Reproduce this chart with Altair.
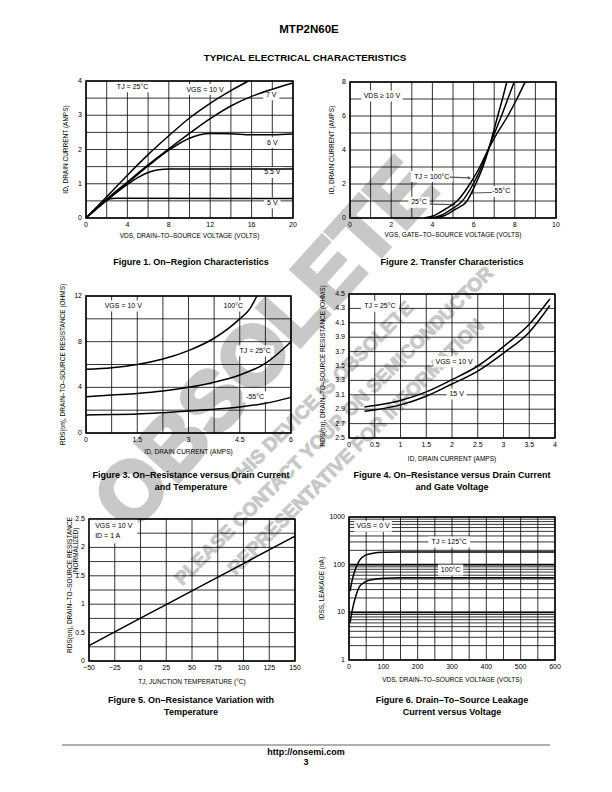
import math
import altair as alt
import pandas as pd

PAGE_W, PAGE_H = 612, 792
FONT = "Liberation Sans Narrow, Arial Narrow, Liberation Sans, Arial, sans-serif"
BOLD = "Liberation Sans, Arial, Helvetica, sans-serif"
INK = "#000000"
WM = "#c8c8c8"

# ---------------- Figure 1: On-Region Characteristics
F1_VDS_10V = [0, 2, 4, 6, 8, 10, 12, 14, 15.7]
F1_ID_10V = [0, 0.62, 1.25, 1.85, 2.4, 2.92, 3.35, 3.72, 4.0]
F1_VDS_7V = [0, 2, 4, 6, 8, 10, 12, 14, 16, 18, 20]
F1_ID_7V = [0, 0.55, 1.05, 1.55, 2.02, 2.47, 2.9, 3.27, 3.55, 3.76, 3.94]
F1_VDS_6V = [0, 2, 4, 6, 8, 10, 11, 12, 14, 16, 18, 20]
F1_ID_6V = [0, 0.53, 1.02, 1.52, 1.98, 2.33, 2.43, 2.47, 2.46, 2.43, 2.43, 2.45]
F1_VDS_55V = [0, 2, 4, 5, 6, 7, 8, 20]
F1_ID_55V = [0, 0.51, 0.98, 1.18, 1.33, 1.41, 1.43, 1.43]
F1_VDS_5V = [0, 1, 2, 2.5, 3, 20]
F1_ID_5V = [0, 0.28, 0.52, 0.57, 0.58, 0.57]

# ---------------- Figure 2: Transfer Characteristics
F2_ID = [0, 0.15, 0.5, 1.0, 2.0, 3.0, 4.0, 5.0, 6.0, 7.0, 8.0]
F2_VGS_100C = [3.6, 4.1, 4.6, 5.2, 5.82, 6.3, 6.7, 7.15, 7.66, 8.1, 8.5]
F2_VGS_25C = [3.85, 4.4, 4.9, 5.45, 5.98, 6.38, 6.7, 7.02, 7.35, 7.66, 7.97]
F2_VGS_M55C = [4.1, 4.6, 5.1, 5.68, 6.1, 6.45, 6.72, 6.95, 7.17, 7.4, 7.61]

# ---------------- Figure 3: On-Resistance vs Drain Current and Temperature
F3_ID = [0, 0.75, 1.5, 2.25, 3, 3.75, 4.5, 5.25, 6]
F3_R_25C = [3.18, 3.33, 3.47, 3.68, 4.0, 4.44, 5.08, 6.1, 8.0]
F3_R_M55C = [1.58, 1.61, 1.66, 1.78, 1.93, 2.08, 2.28, 2.6, 3.12]
F3_ID_100C = [0, 0.75, 1.5, 2.25, 3, 3.75, 4.5, 4.8, 5.0]
F3_R_100C = [5.58, 5.72, 6.0, 6.48, 7.22, 8.3, 10.0, 10.9, 12.0]

# ---------------- Figure 4: On-Resistance vs Drain Current and Gate Voltage
F4_ID = [0.3, 0.5, 1.0, 1.5, 2.0, 2.5, 3.0, 3.5, 3.9]
F4_R_10V = [2.93, 2.95, 3.02, 3.14, 3.31, 3.5, 3.77, 4.08, 4.43]
F4_R_15V = [2.87, 2.89, 2.96, 3.08, 3.25, 3.43, 3.68, 3.97, 4.34]

# ---------------- Figure 5: On-Resistance Variation with Temperature
F5_TJ = [-50, 0, 50, 100, 150]
F5_R = [0.27, 0.755, 1.235, 1.715, 2.2]

# ---------------- Figure 6: Drain-To-Source Leakage
F6_VDS = [3, 10, 20, 31, 48, 70, 100, 150, 600]
F6_I_125C = [28, 50, 85, 124, 158, 174, 182, 184, 184]
F6_I_100C = [6, 11.5, 22, 35, 44, 49, 52, 53, 53]


def frange(a, b, s):
    n = int(round((b - a) / s))
    return [round(a + i * s, 6) for i in range(n + 1)]


def series(name, xs, ys):
    return pd.DataFrame({"x": xs, "y": ys, "s": name})


def text_w(s, size=7.0):
    w = 0.0
    for ch in s:
        if ch == " ":
            w += 0.25
        elif ch in "Il.,:;|i":
            w += 0.28
        elif ch.isupper():
            w += 0.66
        elif ch == "°":
            w += 0.4
        else:
            w += 0.56
    return w * size


def panel(p):
    xdom, ydom, xr, yr = p["xdom"], p["ydom"], p["xr"], p["yr"]
    ylog = p.get("ylog", False)
    xs = alt.Scale(domain=xdom, range=xr, nice=False, zero=False)
    if ylog:
        ys = alt.Scale(type="log", domain=ydom, range=yr, nice=False)
    else:
        ys = alt.Scale(domain=ydom, range=yr, nice=False, zero=False)

    def x2px(v):
        return xr[0] + (v - xdom[0]) / (xdom[1] - xdom[0]) * (xr[1] - xr[0])

    def px2x(q):
        return xdom[0] + (q - xr[0]) / (xr[1] - xr[0]) * (xdom[1] - xdom[0])

    if ylog:
        l0, l1 = math.log10(ydom[0]), math.log10(ydom[1])

        def y2px(v):
            return yr[0] + (math.log10(v) - l0) / (l1 - l0) * (yr[1] - yr[0])

        def px2y(q):
            return 10 ** (l0 + (q - yr[0]) / (yr[1] - yr[0]) * (l1 - l0))
        ymid = math.sqrt(ydom[0] * ydom[1])
    else:
        def y2px(v):
            return yr[0] + (v - ydom[0]) / (ydom[1] - ydom[0]) * (yr[1] - yr[0])

        def px2y(q):
            return ydom[0] + (q - yr[0]) / (yr[1] - yr[0]) * (ydom[1] - ydom[0])
        ymid = (ydom[0] + ydom[1]) / 2

    X = lambda f, **k: alt.X(f, scale=xs, axis=None, **k)
    Y = lambda f, **k: alt.Y(f, scale=ys, axis=None, **k)
    layers = []

    # grid lines
    vg = pd.DataFrame({"v": p["xgrid"], "a": ydom[0], "b": ydom[1]})
    layers.append(alt.Chart(vg).mark_rule(color=INK, strokeWidth=0.8).encode(
        x=X("v:Q"), y=Y("a:Q"), y2="b:Q"))
    hg = pd.DataFrame({"v": p["ygrid"], "a": xdom[0], "b": xdom[1]})
    layers.append(alt.Chart(hg).mark_rule(color=INK, strokeWidth=0.8).encode(
        y=Y("v:Q"), x=X("a:Q"), x2="b:Q"))
    if p.get("ythick"):
        tg = pd.DataFrame({"v": p["ythick"], "a": xdom[0], "b": xdom[1]})
        layers.append(alt.Chart(tg).mark_rule(color=INK, strokeWidth=1.8).encode(
            y=Y("v:Q"), x=X("a:Q"), x2="b:Q"))

    # label backgrounds
    rows, boxes = [], []
    for lab in p.get("labels", []):
        t, lx, ly = lab[0], lab[1], lab[2]
        al = lab[3] if len(lab) > 3 else "center"
        pad = 3
        w = text_w(t)
        cx, cy = x2px(lx), y2px(ly)
        if al == "center":
            a, b = cx - w / 2 - pad, cx + w / 2 + pad
        else:
            a, b = cx - pad, cx + w + pad
        boxes.append({"x1": px2x(a), "x2": px2x(b), "y1": px2y(cy + 5.5), "y2": px2y(cy - 5.5)})
        rows.append({"t": t, "x": lx, "y": ly, "al": al})
    for bx in p.get("boxes", []):
        boxes.append({"x1": bx[0], "x2": bx[1], "y1": bx[2], "y2": bx[3]})
    if boxes:
        layers.append(alt.Chart(pd.DataFrame(boxes)).mark_rect(fill="white", strokeWidth=0).encode(
            x=X("x1:Q"), x2="x2:Q", y=Y("y1:Q"), y2="y2:Q"))

    # frame
    fdf = pd.DataFrame({"x1": [xdom[0]], "x2": [xdom[1]], "y1": [ydom[0]], "y2": [ydom[1]]})
    layers.append(alt.Chart(fdf).mark_rect(fill="white", fillOpacity=0, stroke=INK, strokeWidth=1.5).encode(
        x=X("x1:Q"), x2="x2:Q", y=Y("y1:Q"), y2="y2:Q"))

    # tick labels (placed through the panel scales)
    tstyle = dict(font=FONT, fontSize=7, color=INK)
    ttl = dict(font=FONT, fontSize=6.5, color=INK)
    xl = pd.DataFrame({"v": p["xticks"], "b": ydom[0]})
    layers.append(alt.Chart(xl).mark_text(align="center", baseline="top", dy=3, **tstyle).encode(
        x=X("v:Q"), y=Y("b:Q"), text=alt.Text("v:Q", format=p.get("xfmt", "~g"))))
    yl = pd.DataFrame({"v": p["yticks"], "a": xdom[0]})
    layers.append(alt.Chart(yl).mark_text(align="right", baseline="middle", dx=-4, **tstyle).encode(
        x=X("a:Q"), y=Y("v:Q"), text=alt.Text("v:Q", format=p.get("yfmt", "~g"))))

    # axis titles
    xt = pd.DataFrame({"x": [(xdom[0] + xdom[1]) / 2], "y": [ydom[0]], "t": [p["xtitle"]]})
    layers.append(alt.Chart(xt).mark_text(align="center", baseline="middle", dy=p["xty"], **ttl).encode(
        x=X("x:Q"), y=Y("y:Q"), text="t:N"))
    ytl = p["ytitle"] if isinstance(p["ytitle"], list) else [p["ytitle"]]
    ytx = p["ytx"] if isinstance(p["ytx"], list) else [p["ytx"]]
    yta = p.get("yta", [0] * len(ytl))
    for line, off, along in zip(ytl, ytx, yta):
        yt = pd.DataFrame({"x": [xdom[0]], "y": [ymid], "t": [line]})
        kw = dict(align="center", baseline="middle", angle=270, dy=off, **ttl)
        if along:
            kw["dx"] = along
        layers.append(alt.Chart(yt).mark_text(**kw).encode(x=X("x:Q"), y=Y("y:Q"), text="t:N"))

    # arrows
    if p.get("arrows"):
        adf = pd.DataFrame(p["arrows"], columns=["x1", "y1", "x2", "y2", "shape"])
        layers.append(alt.Chart(adf).mark_rule(color="#555555", strokeWidth=1.2).encode(
            x=X("x1:Q"), y=Y("y1:Q"), x2="x2:Q", y2="y2:Q"))
        for shp in adf["shape"].unique():
            layers.append(alt.Chart(adf[adf["shape"] == shp]).mark_point(
                shape=shp, filled=True, color="#555555", size=14, opacity=1).encode(x=X("x2:Q"), y=Y("y2:Q")))

    # curves
    ldf = pd.concat(p["series"], ignore_index=True)
    layers.append(alt.Chart(ldf).mark_line(color=INK, strokeWidth=1.5, interpolate="monotone").encode(
        x=X("x:Q"), y=Y("y:Q"), detail="s:N"))

    # in-plot labels
    if rows:
        tdf = pd.DataFrame(rows)
        for al in tdf["al"].unique():
            layers.append(alt.Chart(tdf[tdf["al"] == al]).mark_text(
                align=al, baseline="middle", **tstyle).encode(
                x=X("x:Q"), y=Y("y:Q"), text="t:N"))
    return alt.layer(*layers)


P1 = dict(xdom=[0, 20], ydom=[0, 4], xr=[86, 293], yr=[218, 81],
          xticks=frange(0, 20, 4), yticks=frange(0, 4, 1), xgrid=frange(0, 20, 2), ygrid=frange(0, 4, 0.5),
          xtitle="VDS, DRAIN–TO–SOURCE VOLTAGE (VOLTS)", ytitle="ID, DRAIN CURRENT (AMPS)", xty=18, ytx=-20,
          series=[series("10V", F1_VDS_10V, F1_ID_10V), series("7V", F1_VDS_7V, F1_ID_7V),
                  series("6V", F1_VDS_6V, F1_ID_6V), series("5.5V", F1_VDS_55V, F1_ID_55V),
                  series("5V", F1_VDS_5V, F1_ID_5V)],
          labels=[("TJ = 25°C", 4.5, 3.83), ("VGS = 10 V", 11.5, 3.75), ("7 V", 17.9, 3.6),
                  ("6 V", 18.0, 2.2), ("5.5 V", 18.0, 1.33), ("5 V", 18.0, 0.44)])

P2 = dict(xdom=[0, 10], ydom=[0, 8], xr=[350, 556], yr=[218, 82],
          xticks=frange(0, 10, 2), yticks=frange(0, 8, 2), xgrid=frange(0, 10, 1), ygrid=frange(0, 8, 1),
          xtitle="VGS, GATE–TO–SOURCE VOLTAGE (VOLTS)", ytitle="ID, DRAIN CURRENT (AMPS)", xty=17, ytx=-18,
          series=[series("100C", F2_VGS_100C, F2_ID), series("25C", F2_VGS_25C, F2_ID),
                  series("-55C", F2_VGS_M55C, F2_ID)],
          labels=[("VDS ≥ 10 V", 1.55, 7.18), ("TJ = 100°C", 3.97, 2.44), ("-55°C", 7.34, 1.56),
                  ("25°C", 3.35, 0.92)],
          arrows=[(4.83, 2.4, 5.8, 2.36, "triangle-right"), (6.89, 1.5, 5.92, 1.47, "triangle-left"),
                  (3.89, 0.82, 5.05, 0.79, "triangle-right")])

P3 = dict(xdom=[0, 6], ydom=[0, 12], xr=[86, 291], yr=[433, 296],
          xticks=frange(0, 6, 1.5), yticks=frange(0, 12, 4), xgrid=frange(0, 6, 0.75), ygrid=frange(0, 12, 2),
          xtitle="ID, DRAIN CURRENT (AMPS)", ytitle="RDS(on), DRAIN–TO–SOURCE RESISTANCE (OHMS)", xty=19, ytx=-23,
          series=[series("100C", F3_ID_100C, F3_R_100C), series("25C", F3_ID, F3_R_25C),
                  series("-55C", F3_ID, F3_R_M55C)],
          labels=[("VGS = 10 V", 1.09, 11.12), ("100°C", 4.31, 11.12), ("TJ = 25°C", 4.95, 7.18),
                  ("-55°C", 4.95, 3.18)])

P4 = dict(xdom=[0, 4], ydom=[2.5, 4.5], xr=[349, 555], yr=[438, 294],
          xticks=frange(0, 4, 0.5), yticks=frange(2.5, 4.5, 0.2), xgrid=frange(0, 4, 0.5), ygrid=frange(2.5, 4.5, 0.2),
          yfmt=".1f",
          xtitle="ID, DRAIN CURRENT (AMPS)", ytitle="RDS(on), DRAIN–TO–SOURCE RESISTANCE (OHMS)", xty=21, ytx=-26,
          series=[series("10V", F4_ID, F4_R_10V), series("15V", F4_ID, F4_R_15V)],
          labels=[("TJ = 25°C", 0.6, 4.33), ("VGS = 10 V", 2.04, 3.56), ("15 V", 2.09, 3.11)])

P5 = dict(xdom=[-50, 150], ydom=[0, 2.5], xr=[89, 295], yr=[661, 519],
          xticks=frange(-50, 150, 25), yticks=frange(0, 2.5, 0.5), xgrid=frange(-50, 150, 25), ygrid=frange(0, 2.5, 0.25),
          xtitle="TJ, JUNCTION TEMPERATURE (°C)",
          ytitle=["RDS(on), DRAIN–TO–SOURCE RESISTANCE", "(NORMALIZED)"], xty=21, ytx=[-19.5, -13.5], yta=[5, 39],
          series=[series("R", F5_TJ, F5_R)],
          boxes=[(-50, -3, 2.07, 2.5)],
          labels=[("VGS = 10 V", -44, 2.37, "left"), ("ID = 1 A", -44, 2.2, "left")])

P6 = dict(xdom=[0, 600], ydom=[1, 1000], xr=[349, 555], yr=[660, 517], ylog=True,
          xticks=frange(0, 600, 100), yticks=[1, 10, 100, 1000], xgrid=frange(0, 600, 50),
          ygrid=[m * d for d in (1, 10, 100) for m in range(1, 10)] + [1000], ythick=[10, 100], yfmt="d",
          xtitle="VDS, DRAIN–TO–SOURCE VOLTAGE (VOLTS)", ytitle="IDSS, LEAKAGE (nA)", xty=20, ytx=-27,
          series=[series("125C", F6_VDS, F6_I_125C), series("100C", F6_VDS, F6_I_100C)],
          labels=[("VGS = 0 V", 70, 640), ("TJ = 125°C", 292, 300), ("100°C", 296, 77)])

ONE = pd.DataFrame({"k": [0]})


def page_text(txt, x, y, size, weight="bold", color=INK, angle=0, font=BOLD, stroke=0):
    kw = dict(text=txt, font=font, fontSize=size, fontWeight=weight, color=color, align="center", baseline="middle")
    if angle:
        kw["angle"] = angle
    if stroke:
        kw["stroke"] = color
        kw["strokeWidth"] = stroke
    return alt.Chart(ONE).mark_text(**kw).encode(x=alt.value(x), y=alt.value(y))


watermark = [
    page_text("OBSOLETE", 267, 346, 84, color=WM, angle=312, stroke=4),
    page_text("THIS DEVICE IS OBSOLETE", 321, 394, 19, color=WM, angle=315, stroke=1),
    page_text("PLEASE CONTACT YOUR ON SEMICONDUCTOR", 334, 426, 19, color=WM, angle=315, stroke=1),
    page_text("REPRESENTATIVE FOR INFORMATION", 356, 447, 19, color=WM, angle=315, stroke=1),
]

page = [
    page_text("MTP2N60E", 309, 30, 11.5),
    page_text("TYPICAL ELECTRICAL CHARACTERISTICS", 305, 58, 9.8),
    page_text("Figure 1. On–Region Characteristics", 191, 262, 9),
    page_text("Figure 2. Transfer Characteristics", 452, 262, 9),
    page_text("Figure 3. On–Resistance versus Drain Current", 191, 475, 9),
    page_text("and Temperature", 191, 487, 9),
    page_text("Figure 4. On–Resistance versus Drain Current", 452, 475, 9),
    page_text("and Gate Voltage", 452, 487, 9),
    page_text("Figure 5. On–Resistance Variation with", 191, 700, 9),
    page_text("Temperature", 191, 712, 9),
    page_text("Figure 6. Drain–To–Source Leakage", 452, 700, 9),
    page_text("Current versus Voltage", 452, 712, 9),
    alt.Chart(ONE).mark_rule(color="#b0b0b0", strokeWidth=2).encode(
        x=alt.value(62), x2=alt.value(550), y=alt.value(745)),
    page_text("http://onsemi.com", 306, 752, 9),
    page_text("3", 306, 762, 9),
]

panels = [panel(p) for p in (P1, P2, P3, P4, P5, P6)]

chart = alt.layer(*watermark, *panels, *page).resolve_scale(
    x="independent", y="independent").properties(
    width=PAGE_W, height=PAGE_H, autosize=alt.AutoSizeParams(type="none"), padding=0,
    background="white").configure_view(stroke=None)

chart.save("out.html", embed_options={"renderer": "svg", "actions": False})
